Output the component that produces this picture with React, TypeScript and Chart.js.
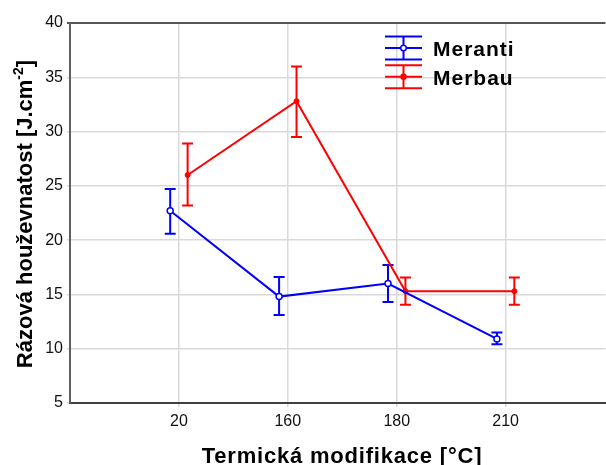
import React, { useEffect, useRef } from "react";
import { Chart, registerables } from "chart.js";

Chart.register(...registerables);

const categories = ["20", "160", "180", "210"];
const categoryPositions = [1, 2, 3, 4];
const merantiMean = [22.7, 14.8, 16.0, 10.9];
const merantiUpper = [24.7, 16.6, 17.7, 11.5];
const merantiLower = [20.6, 13.1, 14.3, 10.4];
const merbauMean = [26.0, 32.8, 15.3, 15.3];
const merbauUpper = [28.9, 36.0, 16.55, 16.55];
const merbauLower = [23.2, 29.5, 14.05, 14.05];
const seriesNames = ["Meranti", "Merbau"];
const yMin = 5;
const yMax = 40;
const yStep = 5;

const BLUE = "#0000ff";
const RED = "#ff0000";
const FONT = "'Liberation Sans', Arial, sans-serif";
const OFFSET = 0.08;

const errorBarPlugin = {
  id: "errorBars",
  beforeDatasetsDraw(chart: any) {
    const ctx = chart.ctx;
    const xs = chart.scales.x;
    const ys = chart.scales.y;
    const sets = [
      { up: merantiUpper, lo: merantiLower, color: BLUE, off: -OFFSET },
      { up: merbauUpper, lo: merbauLower, color: RED, off: OFFSET },
    ];
    ctx.save();
    sets.forEach((s) => {
      ctx.strokeStyle = s.color;
      ctx.lineWidth = 2;
      categoryPositions.forEach((p, i) => {
        const x = xs.getPixelForValue(p + s.off);
        const y1 = ys.getPixelForValue(s.up[i]);
        const y2 = ys.getPixelForValue(s.lo[i]);
        const w = 5.5;
        ctx.beginPath();
        ctx.moveTo(x, y1);
        ctx.lineTo(x, y2);
        ctx.moveTo(x - w, y1);
        ctx.lineTo(x + w, y1);
        ctx.moveTo(x - w, y2);
        ctx.lineTo(x + w, y2);
        ctx.stroke();
      });
    });
    ctx.restore();
  },
};

const decorPlugin = {
  id: "decor",
  afterDraw(chart: any) {
    const ctx = chart.ctx;
    const area = chart.chartArea;
    ctx.save();
    // legend
    const items = [
      { name: seriesNames[0], color: BLUE, open: true },
      { name: seriesNames[1], color: RED, open: false },
    ];
    const lx0 = area.left + 315;
    const lx1 = area.left + 352;
    const lxc = (lx0 + lx1) / 2;
    items.forEach((it, k) => {
      const yc = area.top + 25 + k * 28.8;
      ctx.strokeStyle = it.color;
      ctx.lineWidth = 2;
      ctx.beginPath();
      [-11.5, 0, 11.5].forEach((d) => {
        ctx.moveTo(lx0, yc + d);
        ctx.lineTo(lx1, yc + d);
      });
      ctx.moveTo(lxc, yc - 11.5);
      ctx.lineTo(lxc, yc + 11.5);
      ctx.stroke();
      ctx.beginPath();
      ctx.arc(lxc, yc, it.open ? 2.8 : 2.5, 0, Math.PI * 2);
      ctx.fillStyle = it.open ? "#ffffff" : it.color;
      ctx.fill();
      ctx.lineWidth = 1.5;
      ctx.stroke();
      ctx.fillStyle = "#000";
      ctx.font = `bold 21px ${FONT}`;
      (ctx as any).letterSpacing = "1px";
      ctx.textBaseline = "alphabetic";
      ctx.textAlign = "left";
      ctx.fillText(it.name, area.left + 363, yc + 8);
    });
    (ctx as any).letterSpacing = "0px";

    // x title
    ctx.fillStyle = "#000";
    ctx.font = `bold 22px ${FONT}`;
    (ctx as any).letterSpacing = "0.8px";
    ctx.textAlign = "center";
    ctx.textBaseline = "alphabetic";
    ctx.fillText("Termická modifikace [°C]", 342, 463);
    (ctx as any).letterSpacing = "0px";

    // y title with superscript
    const main = "Rázová houževnatost [J.cm";
    const sup = "-2";
    const end = "]";
    ctx.translate(32, 214);
    ctx.rotate(-Math.PI / 2);
    ctx.font = `bold 22px ${FONT}`;
    const wMain = ctx.measureText(main).width;
    const wEnd = ctx.measureText(end).width;
    ctx.font = `bold 14px ${FONT}`;
    const wSup = ctx.measureText(sup).width;
    const total = wMain + wSup + wEnd;
    let x = -total / 2;
    ctx.textAlign = "left";
    ctx.font = `bold 22px ${FONT}`;
    ctx.fillText(main, x, 0);
    x += wMain;
    ctx.font = `bold 14px ${FONT}`;
    ctx.fillText(sup, x, -9);
    x += wSup;
    ctx.font = `bold 22px ${FONT}`;
    ctx.fillText(end, x, 0);
    ctx.restore();
  },
};

export default function App() {
  const ref = useRef<HTMLCanvasElement | null>(null);
  useEffect(() => {
    if (!ref.current) return;
    const chart = new Chart(ref.current, {
      type: "scatter",
      data: {
        datasets: [
          {
            label: seriesNames[0],
            data: merantiMean.map((v, i) => ({ x: categoryPositions[i] - OFFSET, y: v })),
            showLine: true,
            borderColor: BLUE,
            borderWidth: 2,
            pointRadius: 3,
            pointBorderWidth: 1.5,
            pointBackgroundColor: "#ffffff",
            pointBorderColor: BLUE,
          },
          {
            label: seriesNames[1],
            data: merbauMean.map((v, i) => ({ x: categoryPositions[i] + OFFSET, y: v })),
            showLine: true,
            borderColor: RED,
            borderWidth: 2,
            pointRadius: 2.5,
            pointBorderWidth: 1,
            pointBackgroundColor: RED,
            pointBorderColor: RED,
          },
        ],
      },
      options: {
        responsive: false,
        animation: false,
        layout: { padding: { top: 23, right: 0, left: 0, bottom: 0 } },
        plugins: { legend: { display: false }, tooltip: { enabled: false } },
        scales: {
          x: {
            type: "linear",
            min: 0,
            max: 4.917,
            afterBuildTicks: (scale: any) => {
              scale.ticks = categoryPositions.map((v) => ({ value: v }));
            },
            afterFit: (scale: any) => {
              scale.height = 62;
              scale.paddingRight = 0;
              scale.paddingLeft = 0;
            },
            ticks: {
              callback: (v: any) => {
                const i = categoryPositions.indexOf(Number(v));
                return i >= 0 ? categories[i] : "";
              },
              font: { family: FONT, size: 16 },
              color: "#111",
              padding: 5,
              maxRotation: 0,
            },
            grid: { color: "#d9d9d9", lineWidth: 1.5, tickLength: 4 },
            border: { color: "#404040", width: 2 },
          },
          y: {
            min: yMin,
            max: yMax,
            afterFit: (scale: any) => {
              scale.width = 70;
              scale.paddingTop = 0;
              scale.paddingBottom = 0;
            },
            ticks: {
              stepSize: yStep,
              font: { family: FONT, size: 16 },
              color: "#111",
              padding: 4,
            },
            grid: {
              color: (c: any) => (c.tick && c.tick.value === yMax ? "#555555" : "#d9d9d9"),
              lineWidth: (c: any) => (c.tick && c.tick.value === yMax ? 2 : 1.5),
              tickLength: 3,
            },
            border: { color: "#606060", width: 2 },
          },
        },
      },
      plugins: [errorBarPlugin, decorPlugin],
    } as any);
    return () => chart.destroy();
  }, []);
  return (
    <div style={{ position: "fixed", left: 0, top: 0, width: 606, height: 465, background: "#fff", overflow: "hidden" }}>
      <canvas ref={ref} width={611} height={465} style={{ display: "block" }} />
    </div>
  );
}
